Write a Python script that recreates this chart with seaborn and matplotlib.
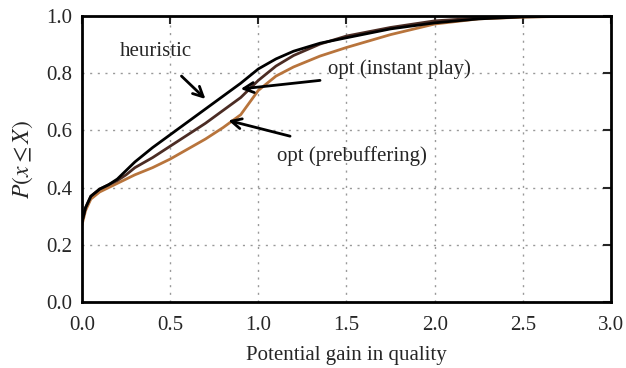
import matplotlib
matplotlib.use("Agg")
import matplotlib.pyplot as plt
import seaborn as sns
import pandas as pd

x_vals = [0, 0.02, 0.05, 0.1, 0.15, 0.2, 0.25, 0.3, 0.4, 0.5, 0.6, 0.7, 0.8, 0.9,
          1.0, 1.1, 1.2, 1.35, 1.5, 1.75, 2.0, 2.25, 2.5, 2.75, 3.0]
heuristic = [0.28, 0.33, 0.37, 0.395, 0.41, 0.43, 0.46, 0.49, 0.54, 0.585, 0.63, 0.675, 0.72, 0.765,
             0.815, 0.85, 0.877, 0.905, 0.924, 0.955, 0.976, 0.99, 0.997, 0.999, 1.0]
instant_play = [0.28, 0.33, 0.37, 0.395, 0.41, 0.425, 0.445, 0.47, 0.505, 0.545, 0.585, 0.625, 0.67, 0.715,
                0.775, 0.825, 0.862, 0.902, 0.93, 0.96, 0.983, 0.993, 0.998, 0.999, 1.0]
prebuffering = [0.27, 0.32, 0.36, 0.385, 0.40, 0.415, 0.43, 0.445, 0.47, 0.50, 0.535, 0.57, 0.61, 0.655,
                0.74, 0.79, 0.822, 0.86, 0.89, 0.935, 0.972, 0.99, 0.996, 0.999, 1.0]
x_ticks = [0.0, 0.5, 1.0, 1.5, 2.0, 2.5, 3.0]
y_ticks = [0.0, 0.2, 0.4, 0.6, 0.8, 1.0]

sns.set_style("white")
plt.rcParams['font.family'] = ['Liberation Serif', 'DejaVu Serif']
plt.rcParams['mathtext.fontset'] = 'stix'

df = pd.DataFrame({
    "x": x_vals * 3,
    "y": heuristic + instant_play + prebuffering,
    "series": ["heuristic"] * len(x_vals) + ["opt (instant play)"] * len(x_vals)
              + ["opt (prebuffering)"] * len(x_vals),
})
palette = {"heuristic": "#000000", "opt (instant play)": "#4b2c24", "opt (prebuffering)": "#b8743c"}

fig = plt.figure(figsize=(6.26, 3.68), dpi=100)
ax = fig.add_axes([0.131, 0.179, 0.845, 0.7775])
sns.lineplot(data=df, x="x", y="y", hue="series", palette=palette, linewidth=2,
             ax=ax, legend=False, hue_order=["opt (prebuffering)", "opt (instant play)", "heuristic"])

ax.set_xlim(0, 3)
ax.set_ylim(0, 1)
ax.set_xticks(x_ticks)
ax.set_yticks(y_ticks)
ax.set_xticklabels([f"{v:.1f}" for v in x_ticks], fontsize=15)
ax.set_yticklabels([f"{v:.1f}" for v in y_ticks], fontsize=15)
ax.tick_params(direction='in', top=True, right=True, length=6, width=1.5)
ax.tick_params(axis='x', pad=10)
ax.tick_params(axis='y', pad=7)
ax.grid(True, linestyle=(0, (1.5, 4)), color='#999999', linewidth=1)
for s in ax.spines.values():
    s.set_linewidth(2)
    s.set_color('black')
ax.set_xlabel("Potential gain in quality", fontsize=15, labelpad=8)
ax.set_ylabel(r"$P(x \leq X)$", fontsize=17, labelpad=8)

ax.annotate("heuristic", xy=(0.70, 0.71), xytext=(0.42, 0.875), fontsize=15,
            ha='center', va='center', arrowprops=dict(arrowstyle='->', color='black', lw=2,
                                                      mutation_scale=18, shrinkA=12, shrinkB=0))
ax.annotate("", xy=(0.90, 0.745), xytext=(1.35, 0.775), arrowprops=dict(arrowstyle='->', color='black',
                                                                       lw=2, mutation_scale=18, shrinkA=0, shrinkB=0))
ax.text(1.80, 0.815, "opt (instant play)", fontsize=15, ha='center', va='center')
ax.annotate("", xy=(0.83, 0.635), xytext=(1.18, 0.58), arrowprops=dict(arrowstyle='->', color='black',
                                                                      lw=2, mutation_scale=18, shrinkA=0, shrinkB=0))
ax.text(1.53, 0.51, "opt (prebuffering)", fontsize=15, ha='center', va='center')

fig.savefig("out.png", dpi=100)
